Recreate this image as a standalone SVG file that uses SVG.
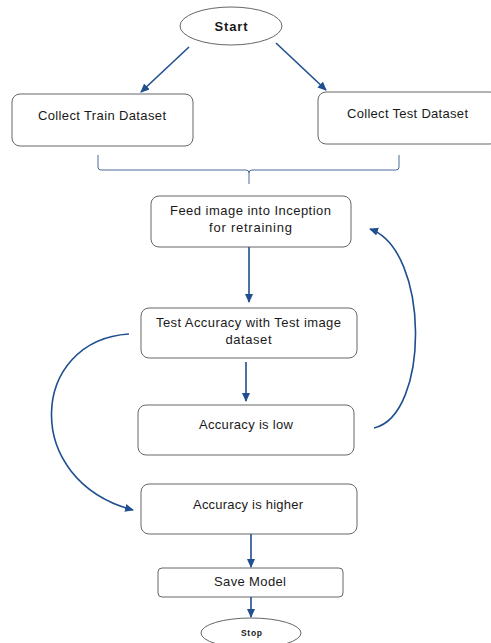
<svg xmlns="http://www.w3.org/2000/svg" width="491" height="643" viewBox="0 0 491 643">
<style>
.box{fill:#fff;stroke:#666;stroke-width:1}
.t{font-family:"Liberation Sans",Arial,sans-serif;font-size:13px;fill:#1a1a1a;text-anchor:middle}
.b{font-weight:bold}
.c{fill:none;stroke:#1f4f8f;stroke-width:1.6}
.br{fill:none;stroke:#4a6a9a;stroke-width:1}
</style>
<defs>
<marker id="ah" markerUnits="userSpaceOnUse" markerWidth="10" markerHeight="10" refX="8" refY="4" orient="auto">
<path d="M0,0 L9,4 L0,8 Z" fill="#1f4f8f"/>
</marker>
</defs>
<rect width="491" height="643" fill="#fff"/>
<g id="start"><ellipse class="box" cx="231" cy="26" rx="51" ry="19"/><text class="t b" x="231" y="31" textLength="33">Start</text></g>
<g id="train"><rect class="box" x="12" y="94" width="181" height="52" rx="8"/><text class="t" x="102" y="120" textLength="128">Collect Train Dataset</text></g>
<g id="test"><rect class="box" x="318" y="92" width="180" height="52" rx="8"/><text class="t" x="407.5" y="118" textLength="121">Collect Test Dataset</text></g>
<g id="feed"><rect class="box" x="151" y="196" width="200" height="51" rx="8"/><text class="t" x="250.5" y="215" textLength="161">Feed image into Inception</text><text class="t" x="250.5" y="232" textLength="83">for retraining</text></g>
<g id="testacc"><rect class="box" x="141" y="308" width="216" height="50" rx="8"/><text class="t" x="248.5" y="327" textLength="185">Test Accuracy with Test image</text><text class="t" x="248.5" y="344" textLength="46">dataset</text></g>
<g id="low"><rect class="box" x="138" y="405" width="216" height="50" rx="8"/><text class="t" x="246" y="429" textLength="94">Accuracy is low</text></g>
<g id="higher"><rect class="box" x="141" y="484" width="216" height="50" rx="8"/><text class="t" x="248" y="509" textLength="110">Accuracy is higher</text></g>
<g id="save"><rect class="box" x="158" y="568" width="185" height="29" rx="4"/><text class="t" x="250" y="586" textLength="72">Save Model</text></g>
<g id="stop"><ellipse class="box" cx="251" cy="633" rx="50" ry="15"/><text class="t b" x="251.5" y="636" style="font-size:8.5px" textLength="21">Stop</text></g>
<g id="connectors">
<line class="c" x1="189" y1="47" x2="141" y2="92" marker-end="url(#ah)"/>
<line class="c" x1="276" y1="43" x2="326" y2="90" marker-end="url(#ah)"/>
<path class="br" d="M98,155 V167 Q98,170 101,170 H246 Q249,170 249,173 V184 M249,173 Q249,170 252,170 H396 Q399,170 399,167 V155"/>
<line class="c" x1="249" y1="247" x2="249" y2="302" marker-end="url(#ah)"/>
<line class="c" x1="246" y1="362" x2="246" y2="401" marker-end="url(#ah)"/>
<line class="c" x1="251" y1="534" x2="251" y2="567" marker-end="url(#ah)"/>
<line class="c" x1="251" y1="597" x2="251" y2="617" marker-end="url(#ah)"/>
<path class="c" d="M129,334 C30,340 20,480 133,510" marker-end="url(#ah)"/>
<path class="c" d="M374,428 C430,415 430,250 370,229" marker-end="url(#ah)"/>
</g>
</svg>
